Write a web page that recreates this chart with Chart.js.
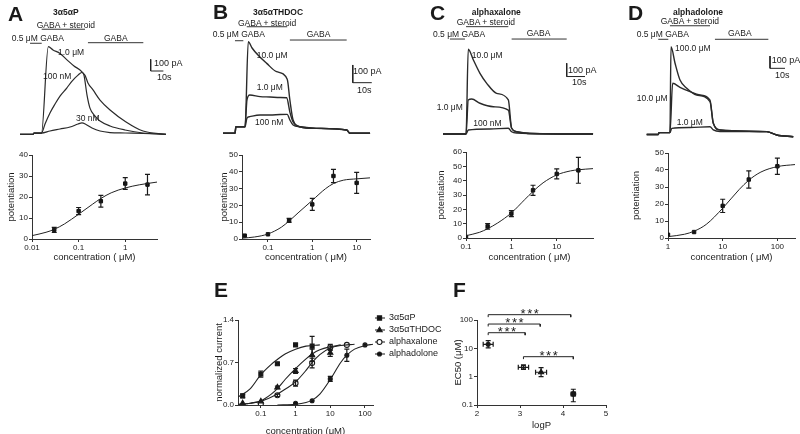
<!DOCTYPE html>
<html>
<head>
<meta charset="utf-8">
<script src="https://cdn.jsdelivr.net/npm/chart.js@4.4.0/dist/chart.umd.min.js"></script>
<style>
body { margin: 0; background: #fff; }
#fig { position: relative; width: 800px; height: 434px; overflow: hidden; background: #fff;
       font-family: "Liberation Sans", Arial, sans-serif; color: #1a1a1a; }
#fig canvas { position: absolute; }
.lbl { position: absolute; white-space: nowrap; line-height: 1; transform: translateY(-50%); font-size: 8.5px; }
.big { font-size: 21px; font-weight: bold; }
.ttl { font-size: 8.5px; font-weight: bold; }
.sc { font-size: 9px; }
</style>
</head>
<body>
<div id="fig"></div>
<script>
// ---------- top row: current traces (time in s, current in pA) ----------
const SCALE_S = 10, SCALE_PA = 100;

const tA1 = [0, 10.2, 11, 16.9, 22.3, 26, 31.5, 37, 42.5, 48.6, 50.4, 52.8, 55.1, 59.1, 63, 70.9, 82.7, 96.9, 114.9];
const iA1 = [0, 0, 10, 10, 749, 721, 691, 636, 584, 536, 504, 333, 224, 156, 113, 71, 37, 11, 0];
const tA2 = [0, 10.2, 11, 16.9, 19.7, 23.6, 27.6, 31.5, 36.8, 41, 45.7, 48.6, 51.2, 53.5, 57.5, 63, 70.9, 83.2, 96.9, 114.9];
const iA2 = [0, 0, 10, 10, 88, 182, 259, 327, 395, 455, 506, 528, 504, 439, 379, 293, 208, 108, 28, 0];
const tA3 = [0, 10.2, 11, 16.9, 23.6, 31.5, 39.4, 45.7, 48.8, 52, 56.7, 63, 70.9, 82.7, 96.9, 114.9];
const iA3 = [0, 0, 10, 10, 28, 45, 62, 88, 97, 84, 54, 28, 15, 11, 7, 0];
const stimA = [[7.9, 17.1], [17.1, 51.2], [53.5, 97.1]];

const tB1 = [0, 6.3, 6.8, 11.6, 13.3, 15.3, 18.4, 23, 28.2, 33.8, 35.2, 36.9, 40.5, 49.3, 65.1, 66.8, 77.4];
const iB1 = [0, 0, 37, 37, 518, 482, 442, 395, 348, 305, 188, 75, 37, 28, 19, 0, 0];
const tB2 = [0, 6.3, 6.8, 11.6, 12.6, 14.1, 19.5, 24.7, 30, 33.5, 35.2, 36.9, 40.5, 49.3, 65.1, 66.8, 77.4];
const iB2 = [0, 0, 37, 37, 188, 216, 207, 205, 202, 201, 120, 64, 37, 28, 19, 0, 0];
const tB3 = [0, 6.3, 6.8, 11.6, 12.6, 14.1, 19.5, 24.7, 30, 33.8, 35.2, 36.9, 40.5, 49.3, 65.1, 66.8, 77.4];
const iB3 = [0, 0, 37, 37, 86, 94, 103, 103, 106, 107, 75, 47, 37, 28, 19, 0, 0];
const stimB = [[6.3, 10.7], [12.5, 33.8], [35.2, 65.1]];

const tC1 = [0, 12.6, 13.8, 16.6, 20.2, 23.9, 29.3, 35.7, 37.5, 40.3, 47.5, 82];
const iC1 = [0, 0, 637, 556, 456, 381, 306, 256, 43, 17, 4, 0];
const tC2 = [0, 12.6, 13.8, 15.7, 20.2, 27.5, 35.7, 37.5, 40.3, 47.5, 82];
const iC2 = [0, 0, 256, 263, 231, 205, 180, 43, 17, 4, 0];
const tC3 = [0, 12.6, 13.8, 25.7, 35.7, 37.5, 40.3, 82];
const iC3 = [0, 0, 30, 38, 43, 17, 8, 0];
const stimC = [[3.8, 12], [12.6, 35.7], [37.5, 67.6]];

const tD1 = [0, 7.7, 8.2, 15.5, 16.2, 18.9, 22.2, 26.7, 33.3, 42.2, 44.4, 48.9, 80, 86.7, 97.7];
const iD1 = [-4, -4, 11, 11, 710, 575, 439, 372, 317, 263, 87, 33, 19, -8, -22];
const tD2 = [0, 7.7, 8.2, 15.5, 17.3, 22.2, 28.9, 35.5, 42.2, 44.4, 48.9, 80, 86.7, 97.7];
const iD2 = [-4, -4, 11, 11, 412, 380, 344, 317, 276, 87, 33, 19, -8, -22];
const tD3 = [0, 7.7, 8.2, 15.5, 16.7, 28.9, 42.2, 44.4, 48.9, 80, 86.7, 97.7];
const iD3 = [-4, -4, 11, 11, 46, 53, 59, 33, 20, 19, -8, -22];
const stimD = [[7.7, 14.4], [15.5, 42.2], [45.5, 81.1]];

// ---------- dose-response (concentration in uM, potentiation) ----------
const concA = [0.03, 0.1, 0.3, 1, 3];
const potA = [4.3, 13.3, 18, 26.4, 25.9];
const semA = [1.2, 1.7, 2.8, 2.8, 4.9];
const fitXA = [0.01, 0.02, 0.03, 0.05, 0.1, 0.2, 0.3, 0.5, 1, 2, 4.8];
const fitYA = [1.6, 3.2, 4.6, 7.2, 11.8, 16.6, 19.3, 22, 24.3, 25.8, 27.1];

const concB = [0.03, 0.1, 0.3, 1, 3, 10];
const potB = [2, 2.8, 11.1, 20.6, 37.5, 33.4];
const semB = [0, 0, 1.2, 3.6, 4, 6.2];
const fitXB = [0.026, 0.05, 0.1, 0.2, 0.3, 0.5, 1, 2, 3, 5, 10, 20];
const fitYB = [0.5, 1.2, 3, 7, 10.7, 16, 23, 30, 33, 35, 35.8, 36.4];

const concC = [0.1, 0.3, 1, 3, 10, 30];
const potC = [0.7, 8.1, 17, 33.3, 44.7, 47.2];
const semC = [0, 1.9, 2.1, 3.5, 3.5, 9];
const fitXC = [0.1, 0.2, 0.3, 0.5, 1, 2, 3, 5, 10, 20, 30, 63];
const fitYC = [1.6, 4, 6.5, 10.5, 17.5, 27, 32.5, 38.5, 44, 46.8, 47.6, 48.4];

const concD = [1, 3, 10, 30, 100];
const potD = [1.9, 3.5, 18.9, 34.4, 42.2];
const semD = [0, 0, 3.9, 5.1, 4.8];
const fitXD = [1, 2, 3, 5, 10, 20, 30, 50, 100, 210];
const fitYD = [0.8, 2.2, 4, 8, 17.5, 28.5, 34, 38.8, 42, 43.2];

// ---------- E: normalized current ----------
const e1c = [0.03, 0.1, 0.3, 1, 3];
const e1v = [0.15, 0.51, 0.68, 0.99, 0.97];
const e1s = [0.03, 0.05, 0.02, 0.02, 0.16];
const e1fx = [0.022, 0.05, 0.1, 0.2, 0.3, 0.5, 1, 2, 5];
const e1fy = [0.13, 0.27, 0.5, 0.67, 0.75, 0.84, 0.92, 0.97, 0.99];

const e2c = [0.03, 0.1, 0.3, 1, 3, 10];
const e2v = [0.03, 0.06, 0.29, 0.56, 0.82, 0.86];
const e2s = [0, 0, 0.02, 0.04, 0.1, 0.06];
const e2fx = [0.022, 0.05, 0.1, 0.2, 0.3, 0.5, 1, 2, 3, 5, 10, 20];
const e2fy = [0.01, 0.03, 0.07, 0.18, 0.27, 0.42, 0.6, 0.76, 0.84, 0.91, 0.96, 0.99];

const e3c = [0.1, 0.3, 1, 3, 10, 30];
const e3v = [0.02, 0.16, 0.36, 0.69, 0.95, 0.99];
const e3s = [0, 0.02, 0.05, 0.08, 0.05, 0];
const e3fx = [0.022, 0.05, 0.1, 0.3, 0.5, 1, 2, 3, 5, 10, 20, 50];
const e3fy = [0.01, 0.03, 0.06, 0.18, 0.26, 0.38, 0.57, 0.7, 0.83, 0.94, 0.98, 1.0];

const e4c = [1, 3, 10, 30, 100];
const e4v = [0.03, 0.07, 0.43, 0.82, 0.99];
const e4s = [0, 0, 0.04, 0.1, 0];
const e4fx = [0.3, 1, 2, 3, 5, 10, 20, 30, 50, 100, 170];
const e4fy = [0, 0.01, 0.04, 0.08, 0.18, 0.42, 0.7, 0.82, 0.92, 0.98, 1.0];

// ---------- F: EC50 vs logP ----------
const logP = [2.26, 3.08, 3.49, 4.24];
const logPErr = [0.116, 0.12, 0.128, 0.05];
const ec50 = [13.9, 2.14, 1.43, 0.244];
const ec50Lo = [10.3, 1.8, 1.0, 0.13];
const ec50Hi = [18.6, 2.6, 2.1, 0.36];
const sigPairs = [[2.26, 3.12], [2.26, 3.47], [2.26, 4.18], [3.08, 4.24]];
const sigLevel = [35.6, 72, 154, 5.07];

Chart.defaults.font.family = '"Liberation Sans", Arial, sans-serif';
Chart.defaults.font.size = 8;
Chart.defaults.color = '#1a1a1a';
Chart.defaults.animation = false;
Chart.defaults.plugins.legend.display = false;
Chart.defaults.plugins.tooltip.enabled = false;

const fig = document.getElementById('fig');
const INK = '#1a1a1a';

function addCanvas(L) {
    const c = document.createElement('canvas');
    c.width = L.cR - L.cL;
    c.height = L.cB - L.cT;
    c.style.left = L.cL + 'px';
    c.style.top = L.cT + 'px';
    fig.appendChild(c);
    return c;
}

const pts = (xs, ys) => xs.map((x, i) => ({ x: x, y: ys[i] }));

// error bars drawn through the chart scales
const errorBars = {
    id: 'errorBars',
    afterDatasetsDraw(chart) {
        const ctx = chart.ctx, xs = chart.scales.x, ys = chart.scales.y;
        ctx.save();
        ctx.strokeStyle = INK;
        ctx.lineWidth = 1.2;
        chart.data.datasets.forEach(ds => {
            if (!ds.sem && !ds.lo && !ds.xerr) return;
            ds.data.forEach((p, j) => {
                const px = xs.getPixelForValue(p.x);
                const py = ys.getPixelForValue(p.y);
                let lo = null, hi = null;
                if (ds.sem && ds.sem[j] > 0) { lo = p.y - ds.sem[j]; hi = p.y + ds.sem[j]; }
                if (ds.lo) { lo = ds.lo[j]; hi = ds.hi[j]; }
                if (lo !== null) {
                    const a = ys.getPixelForValue(lo), b = ys.getPixelForValue(hi);
                    ctx.beginPath();
                    ctx.moveTo(px, a); ctx.lineTo(px, b);
                    ctx.moveTo(px - 2.5, a); ctx.lineTo(px + 2.5, a);
                    ctx.moveTo(px - 2.5, b); ctx.lineTo(px + 2.5, b);
                    ctx.stroke();
                }
                if (ds.xerr) {
                    const a = xs.getPixelForValue(p.x - ds.xerr[j]), b = xs.getPixelForValue(p.x + ds.xerr[j]);
                    ctx.beginPath();
                    ctx.moveTo(a, py); ctx.lineTo(b, py);
                    ctx.moveTo(a, py - 2.5); ctx.lineTo(a, py + 2.5);
                    ctx.moveTo(b, py - 2.5); ctx.lineTo(b, py + 2.5);
                    ctx.stroke();
                }
            });
        });
        ctx.restore();
    }
};

function axis(L, which, extra) {
    const a = {
        border: { display: true, color: '#333', width: 1 },
        grid: { display: true, drawOnChartArea: false, drawTicks: true, tickLength: 3, color: '#333' },
        ticks: { padding: 1, autoSkip: false, maxRotation: 0, color: INK },
        title: { display: true, color: INK, font: { size: 9.5 }, padding: 4 }
    };
    if (which === 'x') a.afterFit = s => { s.height = L.cB - L.pB; };
    else a.afterFit = s => { s.width = L.pL - L.cL; };
    Object.keys(extra).forEach(k => {
        if (typeof extra[k] === 'object' && a[k]) Object.assign(a[k], extra[k]);
        else a[k] = extra[k];
    });
    return a;
}

function padding(L) {
    return { left: 0, top: L.pT - L.cT, right: L.cR - L.pR, bottom: 0 };
}

// ---------- traces ----------
function traceChart(L, traces, stim) {
    const cv = addCanvas(L);
    const ds = traces.map(tr => ({
        data: pts(tr[0], tr[1]), borderColor: '#2a2a2a', borderWidth: L.lw,
        pointRadius: 0, cubicInterpolationMode: 'monotone'
    }));
    stim.forEach((s, k) => ds.push({
        data: [{ x: s[0], y: L.bars[k] }, { x: s[1], y: L.bars[k] }],
        borderColor: '#333', borderWidth: 1, pointRadius: 0
    }));
    ds.push({
        data: [{ x: L.sbT, y: L.sbI + SCALE_PA }, { x: L.sbT, y: L.sbI }, { x: L.sbT + SCALE_S, y: L.sbI }],
        borderColor: '#222', borderWidth: 1, pointRadius: 0
    });
    new Chart(cv, {
        type: 'line',
        data: { datasets: ds },
        options: {
            responsive: false,
            layout: { padding: 0 },
            scales: {
                x: { type: 'linear', display: false, min: (L.cL - L.x0) / L.sx, max: (L.cR - L.x0) / L.sx },
                y: { type: 'linear', display: false, min: -(L.cB - L.base) / L.sy, max: (L.base - L.cT) / L.sy }
            }
        }
    });
}

traceChart({ cL: 0, cR: 200, cT: 0, cB: 140, x0: 20, base: 134.3, sx: 1.27, sy: 0.117, lw: 1.2,
             bars: [778, 898, 783], sbT: 102.9, sbI: 541 },
           [[tA1, iA1], [tA2, iA2], [tA3, iA3]], stimA);
traceChart({ cL: 200, cR: 400, cT: 0, cB: 140, x0: 223, base: 133.3, sx: 1.9, sy: 0.177, lw: 1.4,
             bars: [523, 602, 527], sbT: 68.3, sbI: 286 },
           [[tB1, iB1], [tB2, iB2], [tB3, iB3]], stimB);
traceChart({ cL: 400, cR: 600, cT: 0, cB: 140, x0: 443, base: 134, sx: 1.83, sy: 0.133, lw: 1.4,
             bars: [714, 807, 714], sbT: 67.6, sbI: 432 },
           [[tC1, iC1], [tC2, iC2], [tC3, iC3]], stimC);
traceChart({ cL: 600, cR: 800, cT: 0, cB: 140, x0: 646.7, base: 134, sx: 1.5, sy: 0.123, lw: 1.4,
             bars: [770, 880, 770], sbT: 82.2, sbI: 534 },
           [[tD1, iD1], [tD2, iD2], [tD3, iD3]], stimD);

// ---------- dose-response ----------
function doseChart(L, conc, pot, sem, fx, fy, xr, xTicks, yMax) {
    const cv = addCanvas(L);
    new Chart(cv, {
        type: 'line',
        data: { datasets: [
            { data: pts(fx, fy), borderColor: '#222', borderWidth: 1, pointRadius: 0, cubicInterpolationMode: 'monotone' },
            { data: pts(conc, pot), showLine: false, pointStyle: 'rect', pointRadius: 2.4, borderWidth: 1,
              backgroundColor: '#111', borderColor: '#111', sem: sem }
        ] },
        options: {
            responsive: false,
            layout: { padding: padding(L) },
            scales: {
                x: axis(L, 'x', {
                    type: 'logarithmic', min: xr[0], max: xr[1],
                    afterBuildTicks: s => { s.ticks = xTicks.map(v => ({ value: v })); },
                    ticks: { callback: v => String(v) },
                    title: { text: 'concentration ( μM)' }
                }),
                y: axis(L, 'y', {
                    type: 'linear', min: 0, max: yMax,
                    ticks: { stepSize: 10 },
                    title: { text: 'potentiation' }
                })
            }
        },
        plugins: [errorBars]
    });
}

doseChart({ cL: 2, cR: 200, cT: 140, cB: 267, pL: 32, pR: 157, pT: 155, pB: 239 },
          concA, potA, semA, fitXA, fitYA, [0.01, 4.8], [0.01, 0.1, 1], 40);
doseChart({ cL: 215, cR: 400, cT: 140, cB: 267, pL: 242, pR: 370, pT: 155, pB: 239 },
          concB, potB, semB, fitXB, fitYB, [0.026, 20], [0.1, 1, 10], 50);
doseChart({ cL: 432, cR: 600, cT: 140, cB: 267, pL: 466, pR: 593, pT: 152, pB: 238 },
          concC, potC, semC, fitXC, fitYC, [0.1, 63], [0.1, 1, 10], 60);
doseChart({ cL: 627, cR: 800, cT: 140, cB: 267, pL: 668, pR: 798, pT: 153, pB: 238 },
          concD, potD, semD, fitXD, fitYD, [1, 210], [1, 10, 100], 50);

// ---------- E ----------
const eSeries = [
    { label: '3α5αP', c: e1c, v: e1v, s: e1s, fx: e1fx, fy: e1fy, style: 'rect', r: 2.8, fill: '#111' },
    { label: '3α5αTHDOC', c: e2c, v: e2v, s: e2s, fx: e2fx, fy: e2fy, style: 'triangle', r: 3, fill: '#111' },
    { label: 'alphaxalone', c: e3c, v: e3v, s: e3s, fx: e3fx, fy: e3fy, style: 'circle', r: 2.5, fill: '#fff' },
    { label: 'alphadolone', c: e4c, v: e4v, s: e4s, fx: e4fx, fy: e4fy, style: 'circle', r: 2, fill: '#111' }
];
const LE = { cL: 210, cR: 460, cT: 300, cB: 441, pL: 238, pR: 373, pT: 320, pB: 405,
             legX0: 165, legX1: 175, legM: 169.5, legT: 179, legY: 18, legStep: 12 };

function marker(ctx, style, r, fill, x, y) {
    ctx.save();
    ctx.fillStyle = fill; ctx.strokeStyle = INK; ctx.lineWidth = 1.1;
    ctx.beginPath();
    if (style === 'rect') ctx.rect(x - r * 0.75, y - r * 0.75, r * 1.5, r * 1.5);
    else if (style === 'triangle') { ctx.moveTo(x, y - r); ctx.lineTo(x + r * 0.9, y + r * 0.6); ctx.lineTo(x - r * 0.9, y + r * 0.6); ctx.closePath(); }
    else ctx.arc(x, y, r, 0, Math.PI * 2);
    ctx.fill(); ctx.stroke();
    ctx.restore();
}

const legendE = {
    id: 'legendE',
    afterDraw(chart) {
        const ctx = chart.ctx;
        ctx.save();
        ctx.font = '9px "Liberation Sans", Arial, sans-serif';
        ctx.textBaseline = 'middle';
        ctx.fillStyle = INK;
        eSeries.forEach((s, k) => {
            const y = LE.legY + k * LE.legStep;
            ctx.strokeStyle = INK; ctx.lineWidth = 1;
            ctx.beginPath(); ctx.moveTo(LE.legX0, y); ctx.lineTo(LE.legX1, y); ctx.stroke();
            marker(ctx, s.style, s.r, s.fill, LE.legM, y);
            ctx.fillStyle = INK;
            ctx.fillText(s.label, LE.legT, y);
        });
        ctx.restore();
    }
};

const eData = [];
eSeries.forEach(s => {
    eData.push({ data: pts(s.fx, s.fy), borderColor: '#222', borderWidth: 1.1, pointRadius: 0, cubicInterpolationMode: 'monotone' });
});
eSeries.forEach(s => {
    eData.push({ data: pts(s.c, s.v), showLine: false, pointStyle: s.style, pointRadius: s.r, borderWidth: 1.1,
                 backgroundColor: s.fill, borderColor: INK, sem: s.s });
});

new Chart(addCanvas(LE), {
    type: 'line',
    data: { datasets: eData },
    options: {
        responsive: false,
        layout: { padding: padding(LE) },
        scales: {
            x: axis(LE, 'x', {
                type: 'logarithmic', min: 0.022, max: 170,
                afterBuildTicks: s => { s.ticks = [0.1, 1, 10, 100].map(v => ({ value: v })); },
                ticks: { callback: v => String(v) },
                title: { text: 'concentration (μM)' }
            }),
            y: axis(LE, 'y', {
                type: 'linear', min: 0, max: 1.4,
                afterBuildTicks: s => { s.ticks = [0, 0.7, 1.4].map(v => ({ value: v })); },
                ticks: { callback: v => v.toFixed(1) },
                title: { text: 'normalized current' }
            })
        }
    },
    plugins: [errorBars, legendE]
});

// ---------- F ----------
const LF = { cL: 449, cR: 620, cT: 295, cB: 435, pL: 477, pR: 606, pT: 320, pB: 405 };

const fData = [{
    data: pts(logP, ec50), showLine: false,
    pointStyle: ['circle', 'rect', 'triangle', 'circle'], pointRadius: [2, 2.6, 3, 2.4], borderWidth: 1.1,
    backgroundColor: ['#111', '#fff', '#111', '#111'], borderColor: INK,
    lo: ec50Lo, hi: ec50Hi, xerr: logPErr
}];
sigPairs.forEach((p, k) => {
    const h = sigLevel[k];
    fData.push({
        data: [{ x: p[0], y: h * 0.82 }, { x: p[0], y: h }, { x: p[1], y: h }, { x: p[1], y: h * 0.82 }],
        borderColor: '#222', borderWidth: 1, pointRadius: 0, clip: false
    });
});

const starsF = {
    id: 'starsF',
    afterDatasetsDraw(chart) {
        const ctx = chart.ctx, xs = chart.scales.x, ys = chart.scales.y;
        ctx.save();
        ctx.font = '13px "Liberation Sans", Arial, sans-serif';
        ctx.letterSpacing = '1.5px';
        ctx.textAlign = 'center';
        ctx.textBaseline = 'alphabetic';
        ctx.fillStyle = INK;
        sigPairs.forEach((p, k) => {
            const x = xs.getPixelForValue((p[0] + p[1]) / 2);
            const y = ys.getPixelForValue(sigLevel[k]);
            ctx.fillText('***', x + 1, y + 3);
        });
        ctx.restore();
    }
};

new Chart(addCanvas(LF), {
    type: 'line',
    data: { datasets: fData },
    options: {
        responsive: false,
        layout: { padding: padding(LF) },
        scales: {
            x: axis(LF, 'x', {
                type: 'linear', min: 2, max: 5,
                ticks: { stepSize: 1 },
                title: { text: 'logP' }
            }),
            y: axis(LF, 'y', {
                type: 'logarithmic', min: 0.1, max: 100,
                afterBuildTicks: s => { s.ticks = [0.1, 1, 10, 100].map(v => ({ value: v })); },
                ticks: { callback: v => String(v) },
                title: { text: 'EC50 (μM)' }
            })
        }
    },
    plugins: [errorBars, starsF]
});

// ---------- text labels ----------
const labels = [
    ['A', 8, 12.5, 'big'], ['B', 213, 11, 'big'], ['C', 430, 11.5, 'big'], ['D', 628, 11.5, 'big'],
    ['E', 214, 289, 'big'], ['F', 453, 289, 'big'],
    ['3α5αP', 53, 12, 'ttl'], ['3α5αTHDOC', 253, 12, 'ttl'], ['alphaxalone', 471.7, 12, 'ttl'], ['alphadolone', 673, 12, 'ttl'],
    ['GABA + steroid', 36.7, 25], ['GABA + steroid', 238, 23], ['GABA + steroid', 456.7, 22], ['GABA + steroid', 660.7, 21],
    ['0.5 μM GABA', 11.7, 38], ['0.5 μM GABA', 212.7, 34], ['0.5 μM GABA', 433, 34], ['0.5 μM GABA', 636.7, 34],
    ['GABA', 104, 38], ['GABA', 306.7, 34], ['GABA', 526.7, 33], ['GABA', 728, 33],
    ['100 pA', 154, 63, 'sc'], ['100 pA', 353, 71, 'sc'], ['100 pA', 568, 70, 'sc'], ['100 pA', 771.7, 60, 'sc'],
    ['10s', 157, 77, 'sc'], ['10s', 357, 90, 'sc'], ['10s', 572, 82, 'sc'], ['10s', 775, 75, 'sc'],
    ['1.0 μM', 58, 52], ['100 nM', 43, 76], ['30 nM', 76, 118],
    ['10.0 μM', 256.7, 55], ['1.0 μM', 256.7, 87], ['100 nM', 255, 121.7],
    ['10.0 μM', 471.7, 55], ['1.0 μM', 436.7, 107.3], ['100 nM', 473.3, 122.7],
    ['100.0 μM', 675, 48.3], ['10.0 μM', 636.7, 98.3], ['1.0 μM', 676.7, 121.7]
];
labels.forEach(([text, x, y, cls]) => {
    const d = document.createElement('div');
    d.className = 'lbl' + (cls ? ' ' + cls : '');
    d.style.left = x + 'px';
    d.style.top = y + 'px';
    d.textContent = text;
    fig.appendChild(d);
});
</script>
</body>
</html>
